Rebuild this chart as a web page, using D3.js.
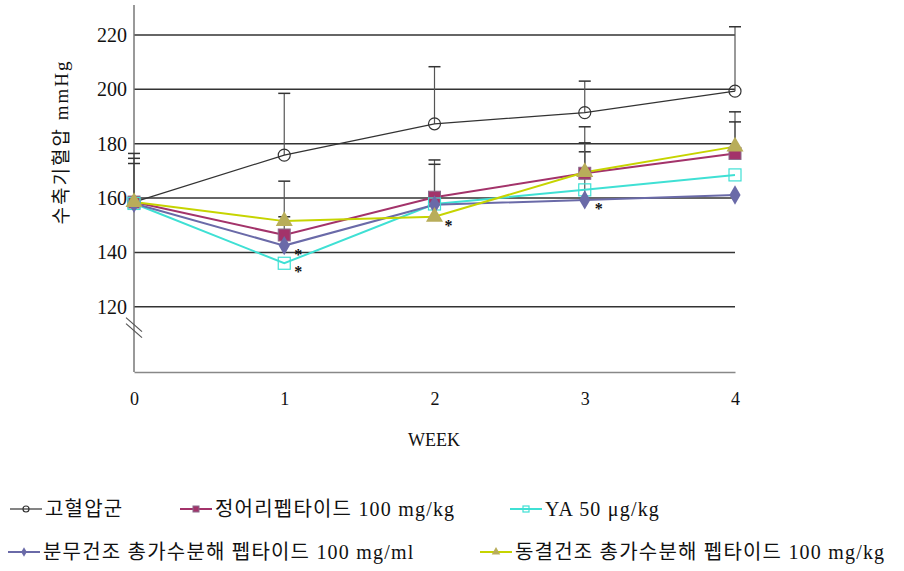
<!DOCTYPE html>
<html>
<head>
<meta charset="utf-8">
<script src="https://cdn.jsdelivr.net/npm/d3@7"></script>
<style>
  body { margin: 0; background: #fff; }
  svg text { font-family: "Liberation Serif", "Noto Sans CJK KR", serif; fill: #111; }
</style>
</head>
<body>
<svg id="chart" width="904" height="571"></svg>
<script>
const weeks = [0, 1, 2, 3, 4];
const seriesNames = [
  "고혈압군",
  "정어리펩타이드 100 mg/kg",
  "YA 50 μg/kg",
  "분무건조 총가수분해 펩타이드 100 mg/ml",
  "동결건조 총가수분해 펩타이드 100 mg/kg"
];
const hypertension = [158.5, 175.8, 187.3, 191.4, 199.3];
const hypertensionSD = [17.9, 22.7, 21.0, 11.6, 23.7];
const sardine = [158.5, 146.4, 160.3, 169.1, 176.4];
const sardineSD = [16.1, 19.8, 13.7, 17.1, 15.3];
const ya = [158.0, 136.0, 157.8, 163.0, 168.5];
const yaSD = [null, null, null, null, null];
const spray = [158.0, 142.5, 157.5, 159.3, 161.1];
const spraySD = [null, null, null, 17.7, null];
const freeze = [158.5, 151.5, 153.1, 169.5, 178.9];
const freezeSD = [14.2, 1.6, 19.3, 10.8, 9.1];
const yTicks = [120, 140, 160, 180, 200, 220];
// significance marks: [series index, week]
const stars = [[3, 1], [2, 1], [4, 2], [3, 3]];

const svg = d3.select("#chart");

const x = d3.scaleLinear().domain([0, 4]).range([134, 735]);
const y = d3.scaleLinear().domain([96, 231]).range([372, 5]);

const series = [
  { name: seriesNames[0], values: hypertension, sd: hypertensionSD, color: "#333", marker: "circle" },
  { name: seriesNames[1], values: sardine, sd: sardineSD, color: "#a3336a", marker: "square" },
  { name: seriesNames[2], values: ya, sd: yaSD, color: "#3fe0d4", marker: "openSquare" },
  { name: seriesNames[3], values: spray, sd: spraySD, color: "#6a6aa8", marker: "diamond" },
  { name: seriesNames[4], values: freeze, sd: freezeSD, color: "#c6d400", marker: "triangle" }
];

// gridlines
svg.append("g")
  .selectAll("line")
  .data(yTicks)
  .enter()
  .append("line")
  .attr("x1", x(0))
  .attr("x2", x(4))
  .attr("y1", d => y(d))
  .attr("y2", d => y(d))
  .attr("stroke", "#333")
  .attr("stroke-width", 1.5);

// y axis
const yAxis = svg.append("g")
  .attr("transform", `translate(${x(0)},0)`)
  .call(d3.axisLeft(y).tickValues(yTicks).tickSize(0).tickPadding(7));
yAxis.select(".domain").remove();
yAxis.selectAll("text")
  .style("font-size", "20px")
  .style("font-family", "Liberation Serif");
svg.append("line")
  .attr("x1", x(0)).attr("x2", x(0))
  .attr("y1", y(231)).attr("y2", y(96))
  .attr("stroke", "#777").attr("stroke-width", 1.5);

// axis break marks
[0, 6].forEach(off => {
  svg.append("line")
    .attr("x1", x(0) - 8).attr("y1", y(116) + off)
    .attr("x2", x(0) + 8).attr("y2", y(116) + 14 + off)
    .attr("stroke", "#555").attr("stroke-width", 1.2);
});

// x axis
const xAxis = svg.append("g")
  .attr("transform", `translate(0,${y(96)})`)
  .call(d3.axisBottom(x).tickValues(weeks).tickFormat(d3.format("d")).tickSize(0).tickPadding(20));
xAxis.select(".domain").attr("stroke", "#888").attr("stroke-width", 1.5);
xAxis.selectAll("text")
  .style("font-size", "18px")
  .style("font-family", "Liberation Serif");

svg.append("text")
  .attr("x", 434)
  .attr("y", 446)
  .attr("text-anchor", "middle")
  .style("font-size", "18px")
  .text("WEEK");

svg.append("text")
  .attr("transform", "rotate(-90)")
  .attr("x", -142)
  .attr("y", 68)
  .attr("text-anchor", "middle")
  .style("font-size", "19px")
  .style("letter-spacing", "2px")
  .text("수축기혈압 mmHg");

// error bars
const errG = svg.append("g");
series.forEach(s => {
  s.values.forEach((v, i) => {
    const sd = s.sd[i];
    if (sd == null) return;
    errG.append("line")
      .attr("x1", x(weeks[i])).attr("x2", x(weeks[i]))
      .attr("y1", y(v)).attr("y2", y(v + sd))
      .attr("stroke", "#555").attr("stroke-width", 1.2);
    errG.append("line")
      .attr("x1", x(weeks[i]) - 6).attr("x2", x(weeks[i]) + 6)
      .attr("y1", y(v + sd)).attr("y2", y(v + sd))
      .attr("stroke", "#333").attr("stroke-width", 1.5);
  });
});

const line = d3.line()
  .x((d, i) => x(weeks[i]))
  .y(d => y(d));

function drawMarker(g, type, color, cx, cy, size) {
  const r = size;
  if (type === "circle") {
    g.append("circle").attr("cx", cx).attr("cy", cy).attr("r", r)
      .attr("fill", "none").attr("stroke", "#333").attr("stroke-width", 1.2);
  } else if (type === "square") {
    g.append("rect").attr("x", cx - r).attr("y", cy - r).attr("width", 2 * r).attr("height", 2 * r)
      .attr("fill", color).attr("stroke", "#8a6a8a").attr("stroke-width", 1);
  } else if (type === "openSquare") {
    g.append("rect").attr("x", cx - r).attr("y", cy - r).attr("width", 2 * r).attr("height", 2 * r)
      .attr("fill", "none").attr("stroke", color).attr("stroke-width", 1.2);
  } else if (type === "diamond") {
    g.append("path")
      .attr("d", d3.symbol(d3.symbolDiamond, r * r * 3)())
      .attr("transform", `translate(${cx},${cy})`)
      .attr("fill", color);
  } else if (type === "triangle") {
    g.append("path")
      .attr("d", d3.symbol(d3.symbolTriangle, r * r * 3.5)())
      .attr("transform", `translate(${cx},${cy})`)
      .attr("fill", "#b8ad5a");
  }
}

// lines and markers (black first, colored on top)
series.forEach((s, si) => {
  svg.append("path")
    .datum(s.values)
    .attr("d", line)
    .attr("fill", "none")
    .attr("stroke", s.color)
    .attr("stroke-width", si === 0 ? 1.2 : 2);
});
series.forEach(s => {
  const g = svg.append("g");
  s.values.forEach((v, i) => drawMarker(g, s.marker, s.color, x(weeks[i]), y(v), 6));
});

// significance asterisks
svg.append("g")
  .selectAll("text")
  .data(stars)
  .enter()
  .append("text")
  .attr("x", d => x(d[1]) + 10)
  .attr("y", d => y(series[d[0]].values[d[1]]) + 14)
  .style("font-size", "16px")
  .style("font-weight", "bold")
  .text("*");

// legend
const legendItems = [
  { s: 0, x: 10, y: 509 },
  { s: 1, x: 180, y: 509 },
  { s: 2, x: 510, y: 509 },
  { s: 3, x: 8, y: 552 },
  { s: 4, x: 480, y: 552 }
];
legendItems.forEach(it => {
  const s = series[it.s];
  const g = svg.append("g");
  g.append("line")
    .attr("x1", it.x).attr("x2", it.x + 32)
    .attr("y1", it.y).attr("y2", it.y)
    .attr("stroke", s.color).attr("stroke-width", it.s === 0 ? 1.2 : 2);
  drawMarker(g, s.marker, s.color, it.x + 16, it.y, 3);
  g.append("text")
    .attr("x", it.x + 35)
    .attr("y", it.y + 7)
    .style("font-size", "20px")
    .style("letter-spacing", "1.2px")
    .text(s.name);
});
</script>
</body>
</html>
